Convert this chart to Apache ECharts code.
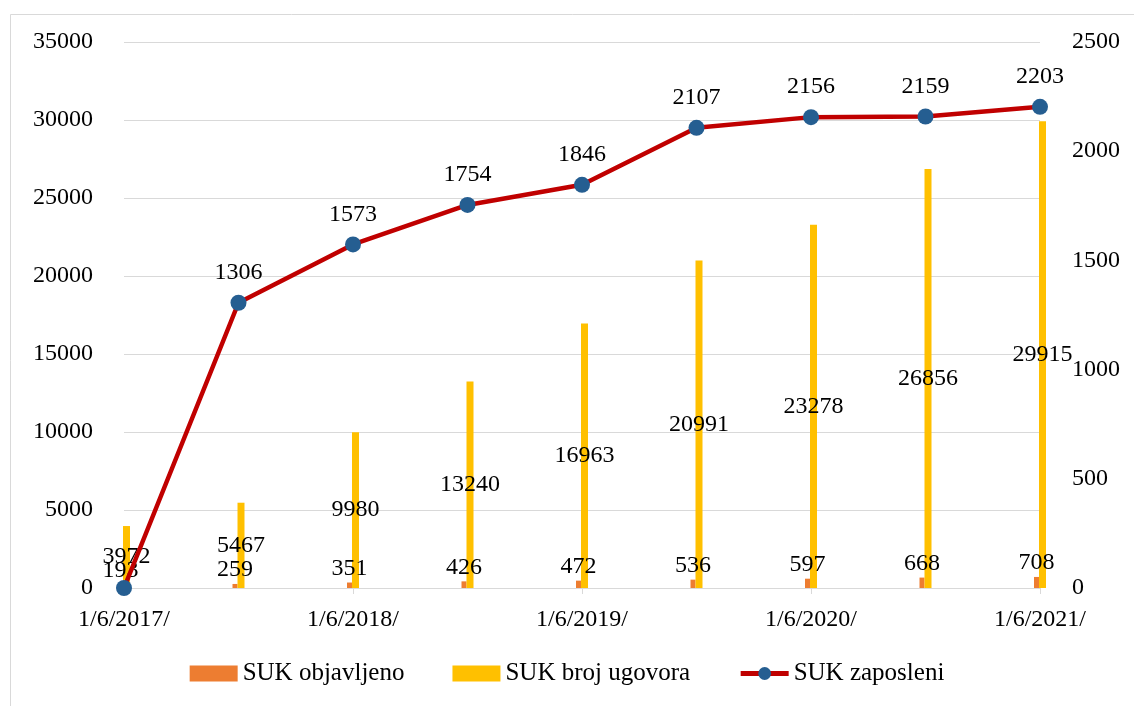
<!DOCTYPE html>
<html>
<head>
<meta charset="utf-8">
<script src="https://cdn.jsdelivr.net/npm/echarts@6/dist/echarts.min.js"></script>
<style>
html, body { margin: 0; padding: 0; background: #fff; }
#chart { width: 1134px; height: 706px; }
</style>
</head>
<body>
<div id="chart"></div>
<script>
// podaci
const categories = ['1/6/2017/', '1/12/2017/', '1/6/2018/', '1/12/2018/', '1/6/2019/', '1/12/2019/', '1/6/2020/', '1/12/2020/', '1/6/2021/'];
const sukObjavljeno = [193, 259, 351, 426, 472, 536, 597, 668, 708];
const sukBrojUgovora = [3972, 5467, 9980, 13240, 16963, 20991, 23278, 26856, 29915];
const sukZaposleni = [0, 1306, 1573, 1754, 1846, 2107, 2156, 2159, 2203];

const font = 'Liberation Serif';
const fs = 24;
const chart = echarts.init(document.getElementById('chart'));

const option = {
  backgroundColor: '#fff',
  animation: false,
  textStyle: { fontFamily: font },
  graphic: [{
    type: 'rect',
    left: 8, top: 12,
    shape: { width: 1140, height: 700 },
    style: { fill: 'none', stroke: '#d9d9d9', lineWidth: 1 },
    z: -10
  }],
  grid: { left: 124, right: 94, top: 42, bottom: 118 },
  legend: {
    bottom: 15,
    left: 'center',
    itemWidth: 48,
    itemHeight: 16,
    itemGap: 48,
    textStyle: { fontFamily: font, fontSize: 25, color: '#000' },
    data: [
      { name: 'SUK objavljeno', icon: 'rect' },
      { name: 'SUK broj ugovora', icon: 'rect' },
      { name: 'SUK zaposleni', lineStyle: { width: 5 } }
    ]
  },
  xAxis: {
    type: 'category',
    data: categories,
    boundaryGap: false,
    axisLine: { lineStyle: { color: '#d9d9d9' } },
    axisTick: { show: true, interval: 1, length: 6, lineStyle: { color: '#d9d9d9' } },
    axisLabel: { interval: 1, color: '#000', fontFamily: font, fontSize: fs, margin: 20 }
  },
  yAxis: [{
    type: 'value',
    min: 0, max: 35000, interval: 5000,
    axisLine: { show: false },
    axisTick: { show: false },
    axisLabel: { color: '#000', fontFamily: font, fontSize: fs, margin: 31, formatter: v => String(v) },
    splitLine: { lineStyle: { color: '#d9d9d9', width: 1 } }
  }, {
    type: 'value',
    min: 0, max: 2500, interval: 500,
    axisLine: { show: false },
    axisTick: { show: false },
    axisLabel: { color: '#000', fontFamily: font, fontSize: fs, margin: 32, formatter: v => String(v) },
    splitLine: { show: false }
  }],
  series: [{
    name: 'SUK objavljeno',
    type: 'bar',
    data: sukObjavljeno,
    barWidth: 5,
    barGap: '0%',
    itemStyle: { color: '#ed7d31' },
    label: {
      show: true, position: 'top', distance: 2,
      color: '#000', fontFamily: font, fontSize: fs
    }
  }, {
    name: 'SUK broj ugovora',
    type: 'bar',
    data: sukBrojUgovora,
    barWidth: 7,
    itemStyle: { color: '#ffc000' },
    label: {
      show: true, position: 'inside',
      color: '#000', textBorderWidth: 0, fontFamily: font, fontSize: fs
    }
  }, {
    name: 'SUK zaposleni',
    type: 'line',
    yAxisIndex: 1,
    data: sukZaposleni,
    symbol: 'circle',
    symbolSize: 16,
    lineStyle: { color: '#c00000', width: 4.5 },
    itemStyle: { color: '#255e91' },
    z: 5,
    label: {
      show: true, position: 'top', distance: 10,
      color: '#000', fontFamily: font, fontSize: fs,
      formatter: p => (p.value === 0 ? '' : p.value)
    }
  }]
};

chart.setOption(option);
window.addEventListener('resize', () => chart.resize());
</script>
</body>
</html>
